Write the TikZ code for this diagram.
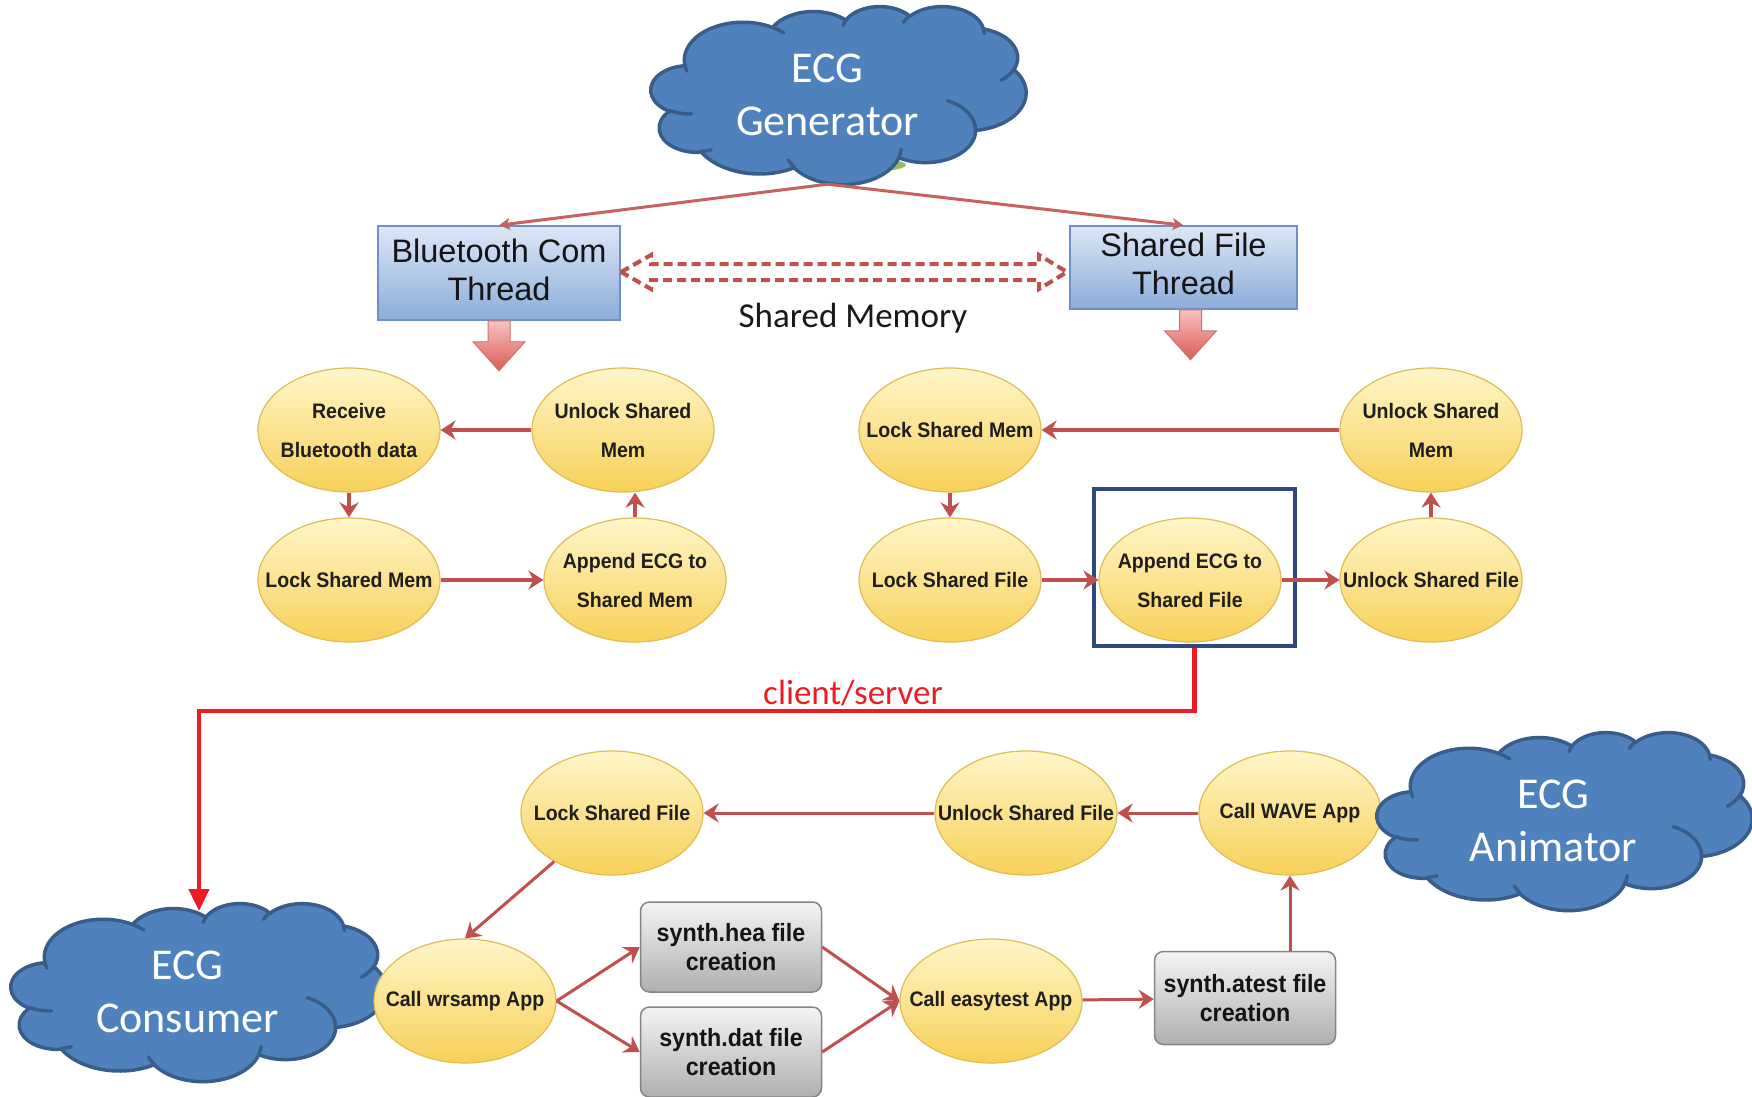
\documentclass[tikz,border=0pt]{standalone}
\usepackage{fontspec}
\usetikzlibrary{shapes.geometric,arrows.meta,calc}
\setmainfont{Liberation Sans}
\newfontfamily\cloudfont{Carlito}
\newfontfamily\narrowfont{Liberation Sans}[FakeStretch=0.93]

\definecolor{cloudfill}{HTML}{4F81BD}
\definecolor{cloudedge}{HTML}{385D8A}
\definecolor{leafgreen}{HTML}{9BBB59}
\definecolor{flowred}{HTML}{C0504D}
\definecolor{linkred}{HTML}{ED1C24}
\definecolor{navyframe}{HTML}{2E4A7D}
\definecolor{ellTop}{HTML}{FFF6C8}
\definecolor{ellBot}{HTML}{F7D058}
\definecolor{ellEdge}{HTML}{E0BC55}
\definecolor{boxTop}{HTML}{F4F4F4}
\definecolor{boxBot}{HTML}{AFAFAF}
\definecolor{boxEdge}{HTML}{858585}
\definecolor{thTop}{HTML}{DCE7F5}
\definecolor{thBot}{HTML}{8CACDA}
\definecolor{thEdge}{HTML}{6E90C6}
\definecolor{baTop}{HTML}{F7C3C1}
\definecolor{baBot}{HTML}{DC5A55}

% cloud outline in a 432 x 432 frame: radii, start angle, sweep (visual angles)
\newcommand\cloudarcs{67.53/91.90/-190.4875/123.7805,
  53.33/72.67/-144.1024/89.9452,
  43.65/59.45/-145.8079/99.7230,
  48.57/65.95/-130.9861/117.2417,
  53.33/72.73/-78.7089/109.0269,
  67.75/92.20/-46.2673/130.2690,
  57.85/78.67/0.6250/114.0333,
  67.52/92.15/22.4516/115.1726,
  77.20/105.43/66.2426/75.7110,
  43.60/59.18/-274.9421/146.7356,
  43.45/59.45/-246.8285/152.5189}
% short creases inside the cloud: start point, radii, start angle, sweep
\newcommand\cloudcreases{46.93/261.77/43.45/59.45/86.7420/26.4295,
  69.28/348.99/43.60/59.18/73.6105/11.4475,
  164.78/390.90/67.52/92.15/137.6242/14.0811,
  288.27/347.51/67.52/92.15/6.4533/15.9984,
  341.29/229.54/57.85/78.67/-70.2924/70.9174,
  417.98/153.54/53.33/72.73/30.3180/27.7515,
  383.24/54.26/48.57/65.95/-13.7443/14.8538,
  290.78/39.52/48.57/65.95/-149.1815/18.1970,
  221.41/47.20/43.65/59.45/-163.4943/17.6999,
  140.00/51.92/67.53/91.90/-66.7070/12.3194,
  41.27/157.89/67.53/91.90/157.6544/11.8582}

\newcommand\drawcloud[2]{%
  \begin{scope}[shift={(#1,#2)}, xscale=375/432, yscale=178/432]
    \filldraw[fill=cloudfill, draw=cloudedge, line width=3.5pt, line join=round] (39.00,143.70)
      \foreach \wr/\hr/\st/\sw [evaluate=\st as \ta using {atan2(\wr*sin(\st),\hr*cos(\st))},
          evaluate=\st as \tb using {atan2(\wr*sin(\st+\sw),\hr*cos(\st+\sw))},
          evaluate=\st as \td using {mod(\tb-\ta+720,360)}] in \cloudarcs
      { arc[x radius=\wr, y radius=\hr, start angle=\ta, delta angle=\td] } -- cycle;
    \draw[cloudedge, line width=3.5pt, line cap=round]
      \foreach \px/\py/\wr/\hr/\st/\sw [evaluate=\st as \ta using {atan2(\wr*sin(\st),\hr*cos(\st))},
          evaluate=\st as \tb using {atan2(\wr*sin(\st+\sw),\hr*cos(\st+\sw))},
          evaluate=\st as \td using {mod(\tb-\ta+720,360)}] in \cloudcreases
      { (\px,\py) arc[x radius=\wr, y radius=\hr, start angle=\ta, delta angle=\td] };
  \end{scope}}

\newcommand\cloudnode[4]{%
  \drawcloud{#2}{#3}
  \node[cloudlabel] (#1) at (#2+176.5,#3+89) {#4};}

\tikzset{
  oval/.style={ellipse, minimum width=182pt, minimum height=124pt, inner xsep=-30pt, inner ysep=0pt,
    top color=ellTop, bottom color=ellBot, draw=ellEdge, line width=1.2pt,
    align=center, text=black!88, font=\narrowfont\bfseries\fontsize{21}{39}\selectfont},
  thread/.style={rectangle, top color=thTop, bottom color=thBot, draw=thEdge, line width=1.5pt,
    align=center, text=black!92, inner sep=0pt, text depth=7pt, font=\fontsize{32.5}{38}\selectfont},
  filebox/.style={rectangle, rounded corners=9pt, minimum width=181pt, top color=boxTop,
    bottom color=boxBot, draw=boxEdge, line width=1.5pt, align=center, text=black!92,
    inner sep=0pt, font=\narrowfont\bfseries\fontsize{25}{29}\selectfont},
  frame/.style={rectangle, draw=navyframe, line width=3.5pt, minimum width=201pt,
    minimum height=157pt, inner sep=0pt},
  flow/.style={draw=flowred, line width=3.5pt, -{Stealth[length=15pt,width=19pt,inset=5pt]}},
  flowb/.style={flow, line width=3pt},
  feed/.style={draw=flowred!90, line width=3pt, -{Stealth[length=11pt,width=12pt,inset=3pt]}},
  shmem/.style={draw=flowred, line width=4pt, dash pattern=on 9pt off 5pt, line join=miter},
  blockarrow/.style={top color=baTop, bottom color=baBot, draw=flowred!80, line width=1pt},
  link/.style={draw=linkred, line width=4.5pt, -{Triangle[length=22pt,width=20pt]}},
  linklabel/.style={text=linkred, inner sep=0pt, font=\cloudfont\fontsize{35}{42}\selectfont},
  memlabel/.style={text=black!90, inner sep=0pt, font=\cloudfont\fontsize{35}{42}\selectfont},
  cloudlabel/.style={minimum width=353pt, minimum height=178pt, inner sep=0pt, align=center,
    text=white, font=\cloudfont\fontsize{44}{53}\selectfont},
}

\begin{document}
\begin{tikzpicture}[x=1pt, y=-1pt]
\useasboundingbox (0,0) rectangle (1752,1096);
\fill[white] (0,0) rectangle (1752,1096);

% generator cloud with the green shape behind it
\fill[leafgreen] (848,165) ellipse[x radius=58, y radius=8];
\cloudnode{gen}{651}{6}{ECG\\Generator}

% thread boxes
\node[thread, minimum width=242pt, minimum height=94pt] (bt) at (499,273) {Bluetooth Com\\Thread};
\node[thread, minimum width=227pt, minimum height=83pt] (sf) at (1183.5,267.5) {Shared File\\Thread};
\draw[feed] (gen.south) -- (bt.north);
\draw[feed] (gen.south) -- (sf.north);

% shared memory double arrow
\draw[shmem] (621,272) -- (651,255) -- (651,264) -- (1039,264) -- (1039,255) -- (1067,272)
  -- (1039,289) -- (1039,280) -- (651,280) -- (651,289) -- cycle;
\node[memlabel] (shm) at (853,318) {Shared Memory};

% block arrows under the thread boxes
\draw[blockarrow] ([xshift=-11pt]bt.south) -- ++(22,0) -- ++(0,21) -- ++(15,0) -- ++(-26,29)
  -- ++(-26,-29) -- ++(15,0) -- cycle;
\draw[blockarrow] ([xshift=-4pt]sf.south) -- ++(22,0) -- ++(0,21) -- ++(15,0) -- ++(-26,29)
  -- ++(-26,-29) -- ++(15,0) -- cycle;

% bluetooth thread loop
\node[oval] (rbd) at (349,430) {Receive\\Bluetooth data};
\node[oval] (ums1) at (623,430) {Unlock Shared\\Mem};
\node[oval] (lsm1) at (349,580) {Lock Shared Mem};
\node[oval] (aem) at (635,580) {Append ECG to\\Shared Mem};
\draw[flow] (ums1) -- (rbd);
\draw[flow] (rbd) -- (lsm1);
\draw[flow] (lsm1) -- (aem);
\draw[flow] (aem.north) -- (aem.north |- ums1.south);

% shared file thread loop
\node[oval] (lsm2) at (950,430) {Lock Shared Mem};
\node[oval] (ums2) at (1431,430) {Unlock Shared\\Mem};
\node[oval] (lsf2) at (950,580) {Lock Shared File};
\node[oval] (aef) at (1190,580) {Append ECG to\\Shared File};
\node[oval] (usf2) at (1431,580) {Unlock Shared File};
\node[frame] (sel) at (1194.5,567.5) {};
\draw[flow] (ums2) -- (lsm2);
\draw[flow] (lsm2) -- (lsf2);
\draw[flow] (lsf2) -- (aef);
\draw[flow] (aef) -- (usf2);
\draw[flow] (usf2) -- (ums2);

% consumer side
\cloudnode{cons}{11}{903}{ECG\\Consumer}
\node[oval] (lsf3) at (612,813) {Lock Shared File};
\node[oval] (usf3) at (1026,813) {Unlock Shared File};
\node[oval] (cwave) at (1290,813) {Call WAVE App};
\cloudnode{anim}{1377}{732}{ECG\\Animator}
\node[oval] (cw) at (465,1001) {Call wrsamp App};
\node[oval] (ce) at (991,1001) {Call easytest App};
\node[filebox, minimum height=90pt] (hea) at (731,947) {synth.hea file\\creation};
\node[filebox, minimum height=90pt] (dat) at (731,1052) {synth.dat file\\creation};
\node[filebox, minimum height=93pt] (atest) at (1245,998) {synth.atest file\\creation};
\draw[flowb] (cwave) -- (usf3);
\draw[flowb] (usf3) -- (lsf3);
\draw[flowb] (lsf3.-140) -- (cw.north);
\draw[flowb] (cw.east) -- (hea.west);
\draw[flowb] (cw.east) -- (dat.west);
\draw[flowb] (hea.east) -- (ce.west);
\draw[flowb] (dat.east) -- (ce.west);
\draw[flowb] (ce) -- (atest);
\draw[flowb] (atest.north -| cwave) -- (cwave.south);

% client/server link
\coordinate (hop) at (199,711);
\coordinate (drop) at (199,911);
\draw[link] (sel.south) |- (hop) -- (drop);
\node[linklabel] (cs) at (853,693) {client/server};
\end{tikzpicture}
\end{document}
